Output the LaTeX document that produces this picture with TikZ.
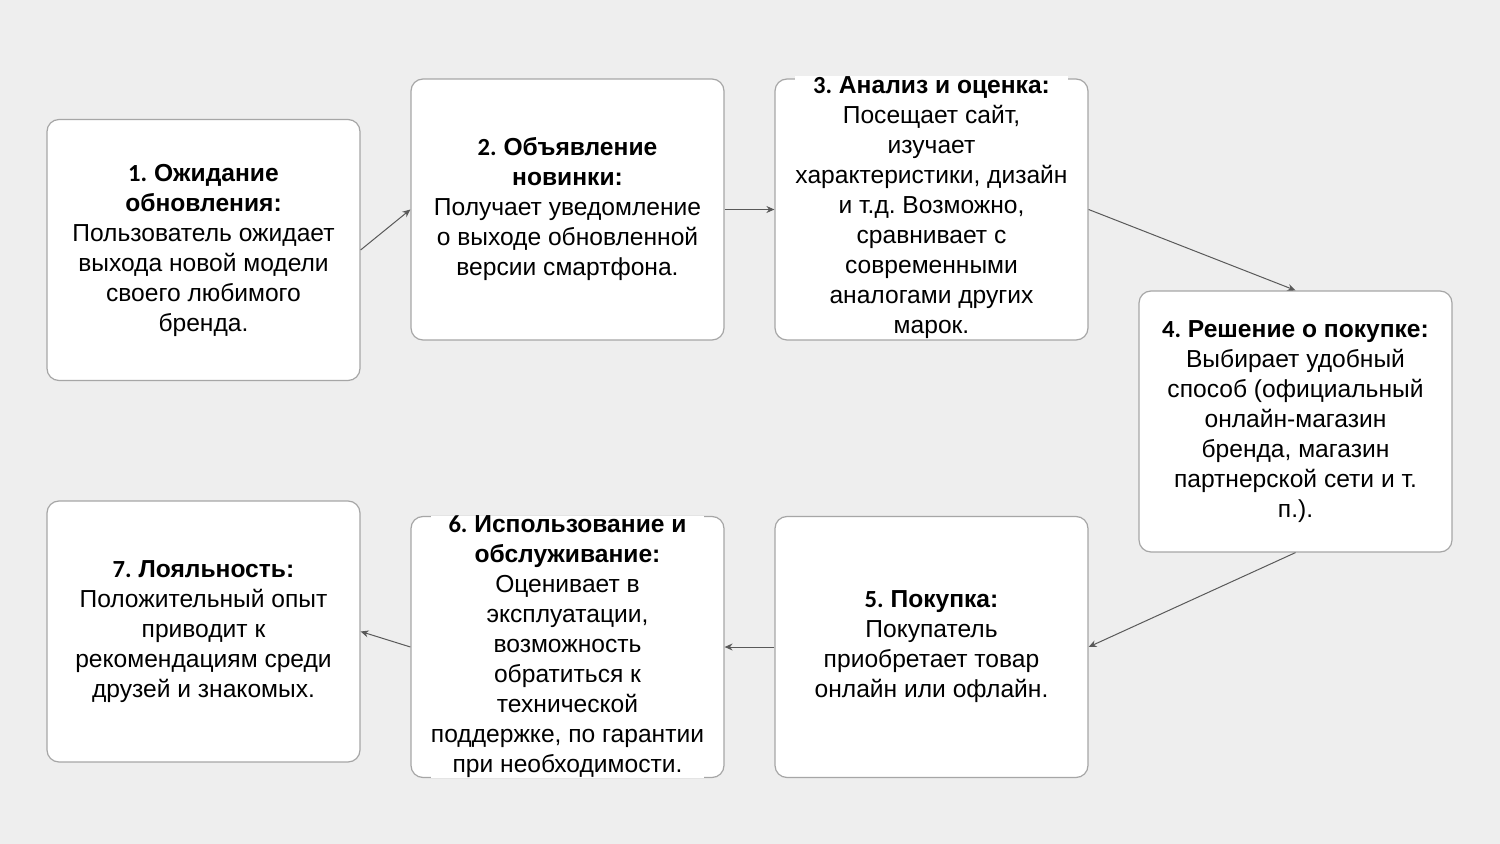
\documentclass[tikz,border=0pt]{standalone}
\usepackage{fontspec}
\setmainfont{Liberation Sans}
\newfontfamily\numfont{Carlito}
\usetikzlibrary{arrows.meta}
\definecolor{bggray}{HTML}{EEEEEE}
\definecolor{boxline}{HTML}{A6A6A6}
\definecolor{arrowgray}{HTML}{595959}
\tikzset{
  stagebox/.style={draw=boxline, fill=white, rounded corners=6pt, line width=0.6pt,
    minimum width=156.5pt, minimum height=130.5pt, inner sep=0pt},
  stagetext/.style={fill=white, align=center, inner sep=0pt,
    font=\fontsize{12.3}{15}\selectfont},
  flow/.style={draw=arrowgray, line width=0.5pt, -{Stealth[length=4pt,width=3.5pt]}}
}
\newcommand{\stagenum}[1]{{\numfont\bfseries #1}}
\frenchspacing
\begin{document}
\begin{tikzpicture}[x=0.5pt,y=-0.5pt]
\fill[bggray] (0,0) rectangle (1500,844);
\useasboundingbox (0,0) rectangle (1500,844);
% boxes
\node[stagebox] (s1) at (203.5,250) {};
\node[stagebox] (s2) at (567.5,209.5) {};
\node[stagebox] (s3) at (931.5,209.5) {};
\node[stagebox] (s4) at (1295.5,421.5) {};
\node[stagebox] (s5) at (931.5,647) {};
\node[stagebox] (s6) at (567.5,647) {};
\node[stagebox] (s7) at (203.5,631.5) {};
% texts
\node[stagetext] (t1) at (s1) {\stagenum{1.} \textbf{Ожидание}\\\textbf{обновления:}\\Пользователь ожидает\\выхода новой модели\\своего любимого\\бренда.};
\node[stagetext] (t2) at (s2) {\stagenum{2.} \textbf{Объявление}\\\textbf{новинки:}\\Получает уведомление\\о выходе обновленной\\версии смартфона.};
\node[stagetext] (t3) at ([yshift=1]s3) {\stagenum{3.} \textbf{Анализ и оценка:}\\Посещает сайт,\\изучает\\характеристики, дизайн\\и т.д. Возможно,\\сравнивает с\\современными\\аналогами других\\марок.};
\node[stagetext] (t4) at (s4) {\stagenum{4.} \textbf{Решение о покупке:}\\Выбирает удобный\\способ (официальный\\онлайн-магазин\\бренда, магазин\\партнерской сети и т.\\п.).};
\node[stagetext] (t5) at (s5) {\stagenum{5.} \textbf{Покупка:}\\Покупатель\\приобретает товар\\онлайн или офлайн.};
\node[stagetext] (t6) at (s6) {\stagenum{6.} \textbf{Использование и}\\\textbf{обслуживание:}\\Оценивает в\\эксплуатации,\\возможность\\обратиться к\\технической\\поддержке, по гарантии\\при необходимости.};
\node[stagetext] (t7) at (s7) {\stagenum{7.} \textbf{Лояльность:}\\Положительный опыт\\приводит к\\рекомендациям среди\\друзей и знакомых.};
% connectors
\draw[flow] (s1.east) -- (s2.west);
\draw[flow] (s2.east) -- (s3.west);
\draw[flow] (s3.east) -- (s4.north);
\draw[flow] (s4.south) -- (s5.east);
\draw[flow] (s5.west) -- (s6.east);
\draw[flow] (s6.west) -- (s7.east);
\end{tikzpicture}
\end{document}
